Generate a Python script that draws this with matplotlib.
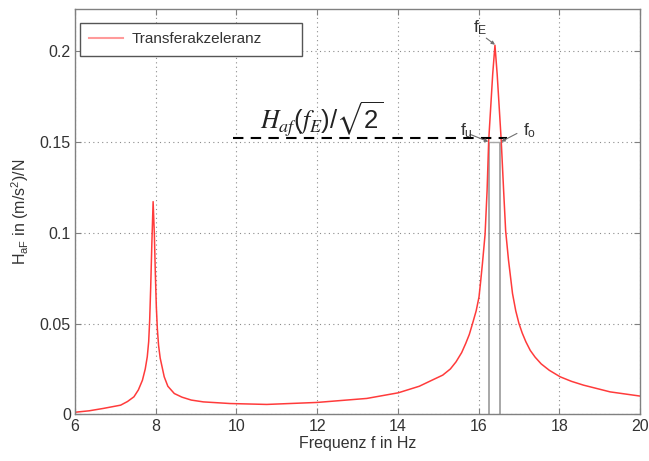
import matplotlib
matplotlib.use('Agg')
import matplotlib.pyplot as plt

plt.rcParams['font.family'] = ['Liberation Sans', 'DejaVu Sans']
plt.rcParams['mathtext.default'] = 'regular'

# values
freq = [6.0, 6.35, 6.70, 7.13, 7.30, 7.46, 7.57, 7.67, 7.74, 7.79, 7.825, 7.85,
        7.875, 7.905, 7.935, 7.965, 7.99, 8.015, 8.04, 8.07, 8.11, 8.21, 8.30,
        8.46, 8.65, 8.88, 9.18, 9.84, 10.75, 12.0, 13.23, 14.01, 14.53, 14.88,
        15.11, 15.30, 15.44, 15.58, 15.68, 15.77, 15.85, 15.94, 16.01, 16.05,
        16.095, 16.16, 16.21, 16.25, 16.30, 16.35, 16.405, 16.46, 16.51, 16.56,
        16.62, 16.67, 16.74, 16.84, 16.92, 17.00, 17.08, 17.17, 17.28, 17.40,
        17.55, 17.75, 18.02, 18.30, 18.60, 19.26, 20.0]
h_af = [0.0012, 0.0020, 0.0033, 0.0051, 0.0071, 0.0097, 0.0135, 0.0188, 0.025,
        0.0317, 0.040, 0.052, 0.0700, 0.0950, 0.117, 0.0995, 0.0775, 0.059,
        0.047, 0.038, 0.0310, 0.0207, 0.0155, 0.0115, 0.0095, 0.0079, 0.0069,
        0.0060, 0.0055, 0.0066, 0.0088, 0.0119, 0.0155, 0.0192, 0.0216, 0.025,
        0.0289, 0.034, 0.039, 0.044, 0.050, 0.057, 0.0646, 0.073, 0.083, 0.099,
        0.123, 0.1507, 0.169, 0.1874, 0.203, 0.187, 0.169, 0.1507, 0.123, 0.101,
        0.085, 0.0665, 0.057, 0.050, 0.0448, 0.0400, 0.0352, 0.0315, 0.0278,
        0.0243, 0.0207, 0.0182, 0.0161, 0.0124, 0.0101]

f_u = 16.26
f_o = 16.535
f_e = 16.405
h_peak = 0.203
h_level = 0.1522   # dashed H_af(f_E)/sqrt(2) line
h_band = 0.150

xticks = [6, 8, 10, 12, 14, 16, 18, 20]
yticks = [0, 0.05, 0.1, 0.15, 0.2]
ytick_labels = ['0', '0.05', '0.1', '0.15', '0.2']

fig = plt.figure(figsize=(6.49, 4.61), dpi=100)
ax = fig.add_axes([0.1156, 0.101, 0.8706, 0.879])

ax.plot(freq, h_af, color='#ff3b3b', lw=1.1, label='Transferakzeleranz')

# bandwidth markers
ax.vlines([f_u, f_o], 0, h_band, color='#a8a8a8', lw=1.4, zorder=1)
ax.hlines(h_band, f_u, f_o, color='#a8a8a8', lw=1.0)
ax.plot([9.92, 16.70], [h_level, h_level], color='black', lw=1.5,
        dashes=(5, 3.5))
ax.text(10.585, 0.1573,
        r'$\mathit{H}_{\mathit{af}}(\mathit{f}_{\mathit{E}})/\sqrt{2}$',
        fontsize=18.5, math_fontfamily='stix', color='#222222', va='baseline')

arrow = dict(arrowstyle='-|>', color='#707070', lw=0.8, mutation_scale=5,
             shrinkA=0, shrinkB=0)
ax.annotate('', xy=(f_e, h_peak + 0.0003), xytext=(16.19, 0.2069),
            arrowprops=arrow)
ax.annotate('', xy=(16.24, h_band), xytext=(15.79, 0.1540), arrowprops=arrow)
ax.annotate('', xy=(16.56, h_band), xytext=(16.95, 0.1545), arrowprops=arrow)
lab = dict(fontsize=12.5, color='#333333', va='baseline', ha='left')
ax.text(15.86, 0.2100, 'f$_E$', **lab)
ax.text(15.54, 0.1535, 'f$_u$', **lab)
ax.text(17.10, 0.1535, 'f$_o$', **lab)

ax.set_xlim(6, 20)
ax.set_ylim(0, 0.2228)
ax.set_xticks(xticks)
ax.set_yticks(yticks)
ax.set_yticklabels(ytick_labels)
ax.grid(True, color='#8c8c8c', linestyle=(0, (1, 3)), lw=0.8)
ax.tick_params(direction='in', length=4, top=True, right=True,
               labelsize=11.5, colors='#808080', labelcolor='#333333', pad=3)
for s in ax.spines.values():
    s.set_color('#808080')
    s.set_linewidth(1.0)

ax.set_xlabel('Frequenz f in Hz', fontsize=11.5, color='#333333', labelpad=2)
ax.set_ylabel('H$_{aF}$ in (m/s$^2$)/N', fontsize=11.5, color='#333333',
              labelpad=6)

leg = ax.legend(loc='upper left', bbox_to_anchor=(0.0088, 0.894, 0.393, 0.0715),
                mode='expand', borderaxespad=0, fontsize=11, handlelength=2.2,
                handletextpad=0.6, borderpad=0.6, fancybox=False,
                framealpha=1, edgecolor='#555555')
leg.get_lines()[0].set_color('#ff9a9a')
leg.get_lines()[0].set_linewidth(1.5)
for t in leg.get_texts():
    t.set_color('#333333')

fig.savefig('out.png', dpi=100)
